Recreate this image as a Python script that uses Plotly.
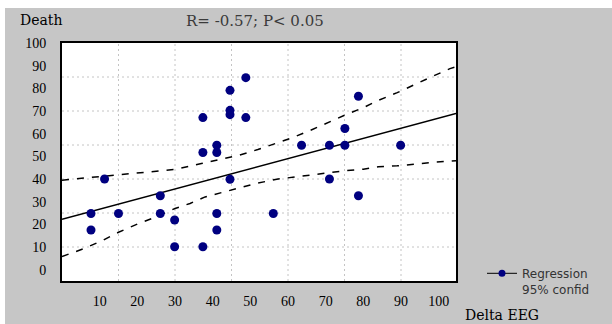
import plotly.graph_objects as go

# ---- data ----
delta_eeg = [7.7, 7.7, 11.3, 15.0, 26.1, 26.1, 29.9, 29.9, 37.4, 37.4, 37.4,
             41.1, 41.1, 41.1, 41.1, 44.6, 44.6, 44.6, 44.6, 48.8, 48.8,
             56.1, 63.6, 71.0, 71.0, 75.1, 75.1, 78.7, 78.7, 89.9]
death = [24.8, 17.5, 40.0, 24.8, 32.6, 24.8, 21.9, 10.1, 10.1, 67.1, 51.7,
         54.9, 51.7, 24.8, 17.5, 79.1, 70.3, 68.4, 39.9, 84.7, 67.1,
         24.8, 54.9, 54.9, 40.0, 62.3, 54.9, 76.5, 32.6, 54.9]

reg_x = [0, 104.6]
reg_y = [22.2, 68.9]

upper_x = [0, 15, 24, 30, 37, 43, 47, 52, 57, 61, 66, 70, 75, 80, 84, 89, 93, 98, 103, 104.6]
upper_y = [39.5, 41.7, 43.2, 44.2, 46.8, 48.9, 50.5, 53.0, 55.7, 58.1, 61.5, 64.5,
           68.1, 71.5, 74.7, 78.1, 81.3, 85.0, 88.7, 89.5]
lower_x = [0, 6, 11, 15, 20, 25, 30, 34, 38, 43, 47, 52, 57, 61, 66, 71, 75, 80,
           84, 89, 93, 98, 103, 104.6]
lower_y = [5.8, 9.4, 13.1, 16.5, 20.1, 23.3, 27.0, 29.2, 32.1, 34.3, 36.3, 38.2,
           39.9, 40.7, 42.0, 42.9, 43.6, 44.3, 45.4, 45.8, 46.5, 47.3, 47.9, 48.1]

x_ticks = [10, 20, 30, 40, 50, 60, 70, 80, 90, 100]
y_ticks = [0, 10, 20, 30, 40, 50, 60, 70, 80, 90, 100]
x_grid = [15, 30, 45, 60, 75, 90]
y_grid = [10, 25, 40, 55, 70, 85]
x_range = [0, 104.6]
y_range = [-5, 100]

title_text = "R= -0.57; P< 0.05"
y_title = "Death"
x_title = "Delta EEG"
legend_text = "Regression<br>95% confid"

NAVY = "#000080"
GRAY = "#c6c6c6"
GRID = "#c4c4c4"
serif = "Liberation Serif"
serif2 = "DejaVu Serif"

fig = go.Figure()

fig.add_trace(go.Scatter(x=upper_x, y=upper_y, mode="lines",
                         line=dict(color="black", width=1.5, dash="7px,8px"),
                         showlegend=False, hoverinfo="skip"))
fig.add_trace(go.Scatter(x=lower_x, y=lower_y, mode="lines",
                         line=dict(color="black", width=1.5, dash="7px,8px"),
                         showlegend=False, hoverinfo="skip"))
fig.add_trace(go.Scatter(x=reg_x, y=reg_y, mode="lines",
                         line=dict(color="black", width=1.5),
                         showlegend=False))
fig.add_trace(go.Scatter(x=delta_eeg, y=death, mode="markers",
                         marker=dict(color=NAVY, size=9),
                         showlegend=False))
# legend-only entry (no data)
fig.add_trace(go.Scatter(x=[None], y=[None], mode="lines+markers",
                         line=dict(color="black", width=1),
                         marker=dict(color=NAVY, size=7),
                         name=legend_text, showlegend=True))

W, H = 612, 324
L, R, T, B = 62, 156, 43, 43
pw, ph = W - L - R, H - T - B

def px(xp):
    return (xp - L) / pw

def py(yp):
    return (H - B - yp) / ph

grid_shapes = []
for gx in x_grid:
    grid_shapes.append(dict(type="line", xref="x", yref="paper", layer="below",
                            x0=gx, x1=gx, y0=0, y1=1,
                            line=dict(color=GRID, width=1, dash="2px,3px")))
for gy in y_grid:
    grid_shapes.append(dict(type="line", xref="paper", yref="y", layer="below",
                            x0=0, x1=1, y0=gy, y1=gy,
                            line=dict(color=GRID, width=1, dash="2px,3px")))

fig.update_layout(
    width=W, height=H,
    margin=dict(l=L, r=R, t=T, b=B, pad=0),
    paper_bgcolor=GRAY,
    plot_bgcolor="white",
    font=dict(family=serif, size=14, color="black"),
    xaxis=dict(range=x_range, tickvals=x_ticks, showgrid=False, zeroline=False,
               showline=True, linecolor="black", linewidth=2, mirror=True,
               ticks="outside", ticklen=6, tickcolor="rgba(0,0,0,0)",
               tickfont=dict(family=serif, size=14, color="black")),
    yaxis=dict(range=y_range, tickvals=y_ticks, showgrid=False, zeroline=False,
               showline=True, linecolor="black", linewidth=2, mirror=True,
               ticks="outside", ticklen=11, tickcolor="rgba(0,0,0,0)",
               tickfont=dict(family=serif, size=14, color="black")),
    showlegend=True,
    legend=dict(x=px(482), y=py(259), xanchor="left", yanchor="top",
                bgcolor="rgba(0,0,0,0)", borderwidth=0, valign="top",
                font=dict(family="DejaVu Sans", size=12, color="#333333")),
    shapes=[
        dict(type="rect", xref="paper", yref="paper", layer="below",
             x0=px(0), x1=px(5), y0=py(H), y1=py(0),
             fillcolor="white", line=dict(width=0)),
        dict(type="rect", xref="paper", yref="paper", layer="below",
             x0=px(0), x1=px(W), y0=py(8), y1=py(0),
             fillcolor="white", line=dict(width=0)),
    ] + grid_shapes,
    annotations=[
        dict(text=title_text, xref="paper", yref="paper", x=px(255), y=py(21),
             showarrow=False, xanchor="center", yanchor="middle",
             font=dict(family=serif2, size=15, color="#3a3a3a")),
        dict(text=y_title, xref="paper", yref="paper", x=px(41), y=py(20),
             showarrow=False, xanchor="center", yanchor="middle",
             font=dict(family=serif2, size=14, color="black")),
        dict(text=x_title, xref="paper", yref="paper", x=px(502), y=py(315),
             showarrow=False, xanchor="center", yanchor="middle",
             font=dict(family=serif2, size=14, color="black")),
    ],
)

fig.write_html("out.html")
